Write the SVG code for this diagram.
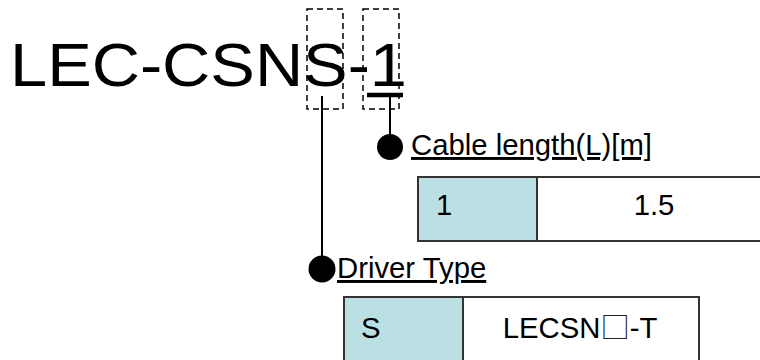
<svg xmlns="http://www.w3.org/2000/svg" width="760" height="360" viewBox="0 0 760 360">
<style>
  text { font-family: "Liberation Sans", Arial, "DejaVu Sans", sans-serif; fill: #000; }
  .title { font-size: 62px; }
  .lbl { font-size: 29.3px; text-decoration: underline; text-decoration-skip-ink: none; }
  .cell { font-size: 29.3px; }
  .sq { font-family: "Noto Sans CJK JP", "DejaVu Sans", sans-serif; fill: #222; }
  .dash { fill: none; stroke: #000; stroke-width: 1.5; stroke-dasharray: 6 4; }
  .conn { stroke: #000; stroke-width: 2; fill: none; }
  .dot { fill: #000; }
  .box { stroke: #333; stroke-width: 2; }
  .hl { fill: #BAE0E3; }
  .wh { fill: #fff; }
</style>
<g id="code">
  <text class="title" x="10" y="86" textLength="397" lengthAdjust="spacingAndGlyphs">LEC-CSNS-1</text>
  <rect class="dash" x="307" y="9" width="36" height="100"/>
  <rect class="dash" x="363" y="9" width="36" height="100"/>
  <line x1="367" y1="95" x2="403" y2="95" stroke="#000" stroke-width="4.5"/>
</g>
<g id="connectors">
  <line class="conn" x1="390" y1="95" x2="390" y2="140"/>
  <circle class="dot" cx="390" cy="147" r="13"/>
  <line class="conn" x1="322" y1="96" x2="322" y2="262"/>
  <circle class="dot" cx="322" cy="269" r="13.5"/>
</g>
<g id="cable-length">
  <text class="lbl" x="411" y="155">Cable length(L)[m]</text>
  <rect class="box wh" x="418" y="177" width="360" height="64"/>
  <rect class="box hl" x="418" y="177" width="119" height="64"/>
  <text class="cell" x="436" y="215">1</text>
  <text class="cell" x="654" y="215" text-anchor="middle">1.5</text>
</g>
<g id="driver-type">
  <text class="lbl" x="337" y="278">Driver Type</text>
  <rect class="box wh" x="344" y="297" width="355" height="80"/>
  <rect class="box hl" x="344" y="297" width="119" height="80"/>
  <text class="cell" x="361" y="338">S</text>
  <text class="cell" x="580" y="338" text-anchor="middle">LECSN<tspan class="sq">□</tspan>-T</text>
</g>
</svg>
